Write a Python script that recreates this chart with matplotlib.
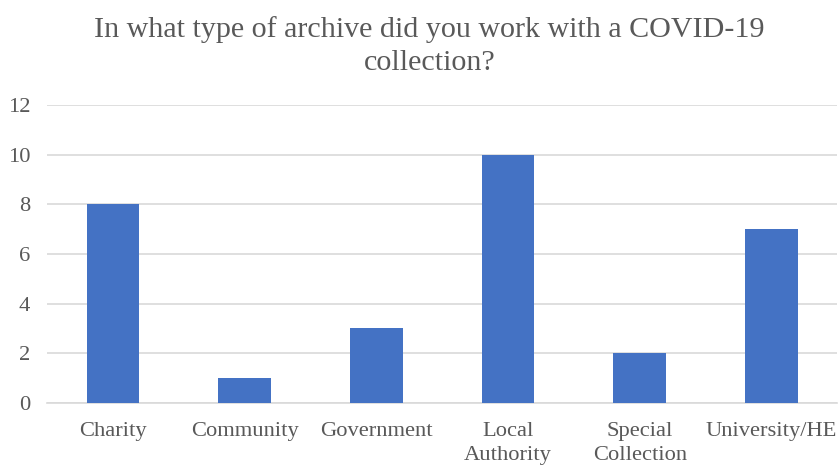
import matplotlib.pyplot as plt

# Data
categories = ["Charity", "Community", "Government", "Local\nAuthority", "Special\nCollection", "University/HE"]
counts = [8, 1, 3, 10, 2, 7]
y_ticks = [0, 2, 4, 6, 8, 10, 12]

TITLE = "In what type of archive did you work with a COVID-19\ncollection?"
BAR_COLOR = "#4472C4"
TEXT_COLOR = "#595959"
GRID_COLOR = "#D9D9D9"

plt.rcParams['font.family'] = ['Liberation Serif', 'DejaVu Serif']

fig = plt.figure(figsize=(8.39, 4.65), dpi=100)
ax = fig.add_axes([0.056, 0.1333, 0.942, 0.641])

x = range(len(categories))
ax.bar(x, counts, width=0.4, color=BAR_COLOR, zorder=3)

ax.set_xlim(-0.5, len(categories) - 0.5)
ax.set_ylim(0, 12)
ax.set_yticks(y_ticks)
ax.set_xticks(list(x))
ax.set_xticklabels(categories, linespacing=1.3)
ax.yaxis.grid(True, color=GRID_COLOR, linewidth=1.2, zorder=0)
ax.tick_params(axis='both', length=0, labelsize=16.2, colors=TEXT_COLOR)
ax.tick_params(axis='y', pad=12)
ax.tick_params(axis='x', pad=14)

for side in ['top', 'right', 'left']:
    ax.spines[side].set_visible(False)
ax.spines['bottom'].set_color(GRID_COLOR)
ax.spines['bottom'].set_linewidth(1.2)

fig.text(0.512, 0.966, TITLE, ha='center', va='top', fontsize=21.6,
         color=TEXT_COLOR, linespacing=1.35)

fig.savefig("out.png", dpi=100)
